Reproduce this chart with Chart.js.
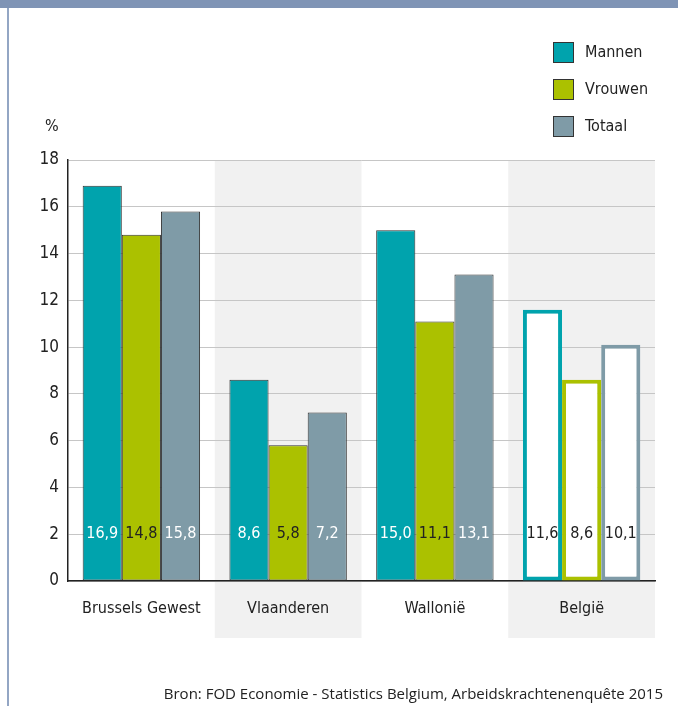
<!DOCTYPE html>
<html>
<head>
<meta charset="utf-8">
<script src="https://cdn.jsdelivr.net/npm/chart.js@4.4.1/dist/chart.umd.min.js"></script>
<style>
  html, body { margin: 0; padding: 0; background: #fff; }
  #wrap { position: relative; width: 678px; height: 706px; overflow: hidden; }
  #topbar { position: absolute; left: 0; top: 0; width: 678px; height: 8px; background: #7f94b5; }
  #leftline { position: absolute; left: 7px; top: 8px; width: 2px; height: 698px; background: #93a6c4; }
  #chart { position: absolute; left: 0; top: 0; }
  #source { position: absolute; right: 15px; top: 683px; font: 15px "Open Sans", "Noto Sans", sans-serif; color: #222; white-space: nowrap; }
</style>
</head>
<body>
<div id="wrap">
  <canvas id="chart" width="678" height="706"></canvas>
  <div id="topbar"></div>
  <div id="leftline"></div>
  <div id="source">Bron: FOD Economie - Statistics Belgium, Arbeidskrachtenenquête 2015</div>
</div>
<script>
const regions = ["Brussels Gewest", "Vlaanderen", "Wallonië", "België"];
const mannen = [16.9, 8.6, 15.0, 11.6];
const vrouwen = [14.8, 5.8, 11.1, 8.6];
const totaal = [15.8, 7.2, 13.1, 10.1];
const seriesNames = ["Mannen", "Vrouwen", "Totaal"];
const seriesColors = ["#00a3ad", "#abc100", "#7f9ba7"];
const labelColors = ["#ffffff", "#222222", "#ffffff"];
const yTicks = [0, 2, 4, 6, 8, 10, 12, 14, 16, 18];

const FONT = '"DejaVu Sans Condensed", "Liberation Sans Narrow", sans-serif';
const totalIdx = regions.length - 1; // België drawn as outline

function makeDataset(name, values, i) {
  return {
    label: name,
    data: values,
    backgroundColor: ctx => ctx.dataIndex === totalIdx ? "#ffffff" : seriesColors[i],
    borderColor: ctx => ctx.dataIndex === totalIdx ? seriesColors[i] : "#333333",
    borderWidth: ctx => ctx.dataIndex === totalIdx ? 4 : 1,
    borderSkipped: false,
    barPercentage: 1,
    categoryPercentage: 0.8
  };
}

// grey bands behind every second region
const bands = {
  id: "bands",
  beforeDraw(chart) {
    const { ctx, chartArea, scales } = chart;
    const step = (chartArea.right - chartArea.left) / regions.length;
    ctx.save();
    ctx.fillStyle = "#f1f1f1";
    regions.forEach((r, i) => {
      if (i % 2 === 1) {
        const cx = scales.x.getPixelForValue(i);
        ctx.fillRect(cx - step / 2, chartArea.top, step, 478);
      }
    });
    ctx.restore();
  }
};

// value labels near the bottom of each bar, plus % unit and legend
const extras = {
  id: "extras",
  afterDraw(chart) {
    const { ctx, scales } = chart;
    const y = scales.y.getPixelForValue(2);
    ctx.save();
    ctx.font = "16px " + FONT;
    ctx.textAlign = "center";
    ctx.textBaseline = "middle";
    chart.data.datasets.forEach((ds, di) => {
      chart.getDatasetMeta(di).data.forEach((bar, i) => {
        ctx.fillStyle = i === totalIdx ? "#222222" : labelColors[di];
        ctx.fillText(ds.data[i].toFixed(1).replace(".", ","), bar.x, y);
      });
    });
    ctx.textAlign = "left";
    ctx.fillStyle = "#222222";
    ctx.fillText("%", 45, 127);
    // legend
    seriesNames.forEach((n, i) => {
      const top = 42 + i * 37;
      ctx.fillStyle = seriesColors[i];
      ctx.fillRect(553, top, 20, 20);
      ctx.strokeStyle = "#333333";
      ctx.lineWidth = 1;
      ctx.strokeRect(553.5, top + 0.5, 20, 20);
      ctx.fillStyle = "#222222";
      ctx.fillText(n, 585, top + 11);
    });
    ctx.restore();
  }
};

new Chart(document.getElementById("chart"), {
  type: "bar",
  data: {
    labels: regions,
    datasets: [
      makeDataset(seriesNames[0], mannen, 0),
      makeDataset(seriesNames[1], vrouwen, 1),
      makeDataset(seriesNames[2], totaal, 2)
    ]
  },
  options: {
    responsive: false,
    animation: false,
    layout: { padding: { left: 10, right: 23, top: 160, bottom: 55 } },
    plugins: { legend: { display: false }, tooltip: { enabled: false } },
    scales: {
      x: {
        grid: { display: false, drawTicks: false },
        border: { color: "#222222", width: 1.5 },
        ticks: { color: "#222222", font: { family: FONT, size: 16 }, padding: 18 },
        afterFit: s => { s.height = 70; }
      },
      y: {
        min: 0,
        max: 18,
        afterBuildTicks: s => { s.ticks = yTicks.map(v => ({ value: v })); },
        grid: { color: "#c6c6c6", lineWidth: 1, drawTicks: false },
        border: { color: "#222222", width: 1.5 },
        ticks: { color: "#222222", font: { family: FONT, size: 17 }, padding: 9 },
        afterFit: s => { s.width = 58; }
      }
    }
  },
  plugins: [bands, extras]
});
</script>
</body>
</html>
